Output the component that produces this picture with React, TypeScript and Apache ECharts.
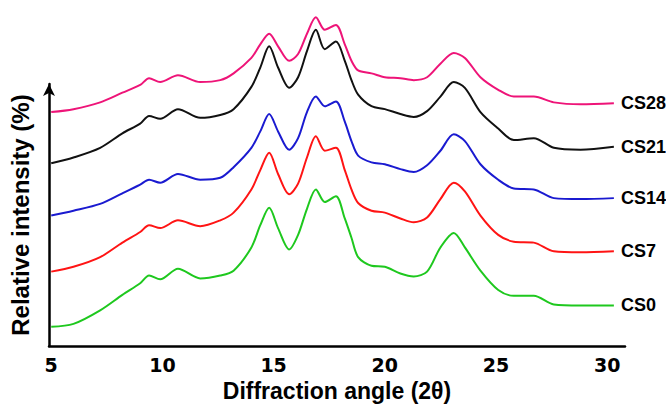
import React, { useEffect, useRef } from "react";
import * as echarts from "echarts";

const angles = [5.0, 6.0, 7.2, 8.2, 9.0, 9.4, 9.9, 10.7, 11.7, 12.6, 13.2, 14.0, 14.4, 14.8, 15.2, 15.7, 16.1, 16.5, 16.9, 17.3, 17.8, 18.2, 18.5, 18.8, 19.4, 20.0, 20.7, 21.3, 21.9, 22.5, 23.1, 23.6, 24.3, 25.1, 25.8, 26.7, 27.6, 28.8, 30.3];

const cs0 = [20, 23, 37, 53, 65, 73, 69, 80, 70, 73, 78, 102, 125, 143, 122, 100, 115, 142, 162, 149, 155, 132, 112, 92, 83, 82, 75, 72, 77, 102, 117, 102, 78, 58, 52, 52, 43, 42, 42];
const cs7 = [77, 82, 92, 107, 118, 125, 122, 130, 124, 130, 138, 162, 182, 200, 178, 157, 168, 195, 217, 202, 205, 182, 162, 148, 140, 138, 132, 128, 133, 152, 169, 160, 135, 115, 108, 107, 98, 97, 98];
const cs14 = [135, 140, 147, 158, 167, 172, 169, 178, 172, 174, 185, 205, 222, 240, 222, 203, 215, 242, 258, 248, 253, 232, 212, 197, 190, 188, 183, 180, 187, 202, 219, 212, 188, 172, 163, 162, 153, 152, 153];
const cs21 = [189, 195, 205, 220, 230, 238, 235, 245, 236, 239, 245, 268, 288, 310, 288, 267, 278, 305, 327, 307, 315, 295, 275, 260, 248, 245, 240, 237, 243, 258, 273, 267, 242, 225, 213, 215, 205, 203, 206];
const cs28 = [242, 245, 252, 262, 270, 277, 273, 280, 273, 275, 282, 298, 312, 323, 310, 295, 302, 323, 340, 327, 332, 312, 295, 285, 282, 278, 277, 275, 278, 292, 303, 298, 278, 265, 258, 258, 252, 250, 251];

const seriesNames = ["CS0", "CS7", "CS14", "CS21", "CS28"];
const seriesValues = [cs0, cs7, cs14, cs21, cs28];
const seriesColors = ["#1ec81e", "#ff1414", "#1a1ad0", "#111111", "#ee1478"];
const xTicks = [5, 10, 15, 20, 25, 30];

export default function App() {
  const ref = useRef<HTMLDivElement>(null);
  useEffect(() => {
    if (!ref.current) return;
    const chart = echarts.init(ref.current, null, { renderer: "svg" });
    chart.setOption({
      animation: false,
      backgroundColor: "#ffffff",
      grid: { left: 49, right: 41, top: 84, bottom: 52 },
      xAxis: {
        type: "value",
        min: 4.9,
        max: 30.8,
        name: "Diffraction angle (2θ)",
        nameLocation: "middle",
        nameGap: 25,
        nameTextStyle: { fontFamily: "Liberation Sans", fontWeight: "bold", fontSize: 23, color: "#000" },
        axisLine: { show: true, lineStyle: { color: "#000", width: 2.5 } },
        axisTick: { show: false },
        splitLine: { show: false },
        axisLabel: {
          customValues: xTicks,
          margin: 9,
          fontFamily: "DejaVu Sans",
          fontWeight: "bold",
          fontSize: 19,
          color: "#000",
        },
      },
      yAxis: {
        type: "value",
        min: 0,
        max: 271,
        name: "Relative intensity (%)",
        nameLocation: "middle",
        nameGap: 17,
        nameTextStyle: { fontFamily: "Liberation Sans", fontWeight: "bold", fontSize: 24, color: "#000" },
        axisLine: { show: true, symbol: ["none", "arrow"], symbolSize: [9, 12], lineStyle: { color: "#000", width: 2.5 } },
        axisTick: { show: false },
        axisLabel: { show: false },
        splitLine: { show: false },
      },
      series: seriesNames.map((name, k) => ({
        name,
        type: "line",
        clip: false,
        smooth: 0.3,
        showSymbol: false,
        data: angles.map((a, i) => [a, seriesValues[k][i]]),
        lineStyle: { color: seriesColors[k], width: 2 },
        itemStyle: { color: seriesColors[k] },
        endLabel: {
          show: true,
          formatter: name,
          distance: 7,
          fontFamily: "Liberation Sans",
          fontWeight: "bold",
          fontSize: 18,
          color: "#000",
        },
      })),
    });
    return () => chart.dispose();
  }, []);
  return <div ref={ref} style={{ position: "fixed", left: 0, top: 0, width: 666, height: 407 }} />;
}
